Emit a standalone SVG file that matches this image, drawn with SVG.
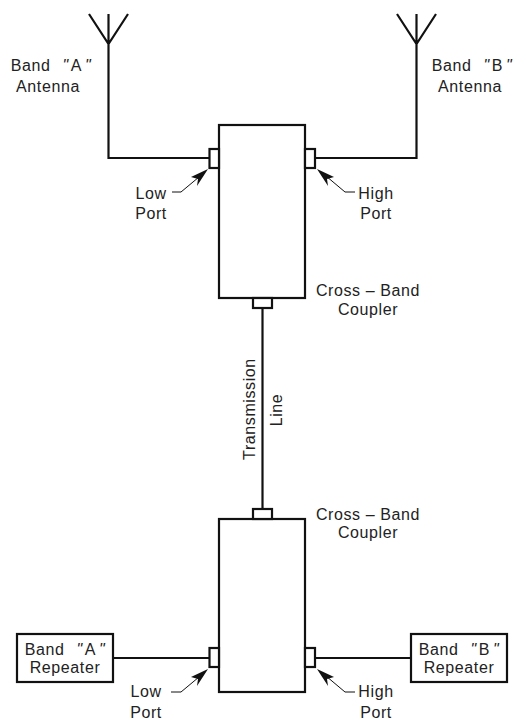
<svg xmlns="http://www.w3.org/2000/svg" width="514" height="721" viewBox="0 0 514 721">
<defs>
<style>
.s{fill:none;stroke:#111;stroke-width:2.2}
.f{fill:#fff;stroke:#111;stroke-width:2.2}
.l{fill:none;stroke:#111;stroke-width:1}
.h{fill:#111;stroke:none}
text{font-family:"Liberation Sans",Arial,sans-serif;font-size:16px;fill:#222;text-anchor:middle;letter-spacing:.6px}
.q{font-style:italic}
</style>
</defs>
<rect width="514" height="721" fill="#fff"/>
<g id="connectors">
<path class="s" d="M89 14L108.500 44L128 14M108.500 14V158H209"/>
<path class="s" d="M397 14L416.500 44L436 14M416.500 14V158H315"/>
<path class="s" d="M262.500 308V509"/>
<path class="s" d="M113 658H209"/>
<path class="s" d="M315 658H411"/>
<path class="l" d="M172 192H181L199 177"/>
<path class="h" d="M208 169L197 186L198 179L191 177Z"/>
<path class="l" d="M355 192H345L326 176"/>
<path class="h" d="M317 169L328 186L327 179L334 177Z"/>
<path class="l" d="M171 692H181L199 677"/>
<path class="h" d="M208 669L197 686L198 679L191 677Z"/>
<path class="l" d="M355 692H345L326 676"/>
<path class="h" d="M317 669L328 686L327 679L334 677Z"/>
</g>
<g id="coupler-top">
<rect class="f" x="219" y="125" width="86" height="173"/>
<rect class="f" x="209.500" y="149" width="9.500" height="19"/>
<rect class="f" x="305" y="149" width="10" height="19"/>
<rect class="f" x="253" y="298" width="19" height="10"/>
<text x="368" y="296">Cross – Band</text><text x="368" y="315">Coupler</text>
</g>
<g id="coupler-bottom">
<rect class="f" x="219" y="519" width="86" height="173"/>
<rect class="f" x="209.500" y="648" width="9.500" height="19"/>
<rect class="f" x="305" y="648" width="10" height="19"/>
<rect class="f" x="253" y="509" width="19" height="10"/>
<text x="368" y="520">Cross – Band</text><text x="368" y="538">Coupler</text>
</g>
<g id="repeater-a">
<rect class="f" x="17" y="634" width="96" height="48"/>
<text x="65" y="655">Band <tspan class="q" dx="7">"</tspan><tspan dx="2">A</tspan><tspan class="q" dx="3">"</tspan></text><text x="65" y="673">Repeater</text>
</g>
<g id="repeater-b">
<rect class="f" x="411" y="634" width="96" height="48"/>
<text x="459" y="655">Band <tspan class="q" dx="7">"</tspan><tspan dx="2">B</tspan><tspan class="q" dx="3">"</tspan></text><text x="459" y="673">Repeater</text>
</g>
<g id="labels">
<text x="51" y="71">Band <tspan class="q" dx="7">"</tspan><tspan dx="2">A</tspan><tspan class="q" dx="3">"</tspan></text><text x="48" y="92">Antenna</text>
<text x="472" y="71">Band <tspan class="q" dx="7">"</tspan><tspan dx="2">B</tspan><tspan class="q" dx="3">"</tspan></text><text x="470" y="92">Antenna</text>
<text x="151" y="199">Low</text><text x="151" y="219">Port</text>
<text x="376" y="199">High</text><text x="376" y="219">Port</text>
<text x="146" y="697">Low</text><text x="146" y="718">Port</text>
<text x="376" y="697">High</text><text x="376" y="718">Port</text>
<text transform="translate(255 409) rotate(-90)">Transmission</text>
<text transform="translate(282 410) rotate(-90)">Line</text>
</g>
</svg>
